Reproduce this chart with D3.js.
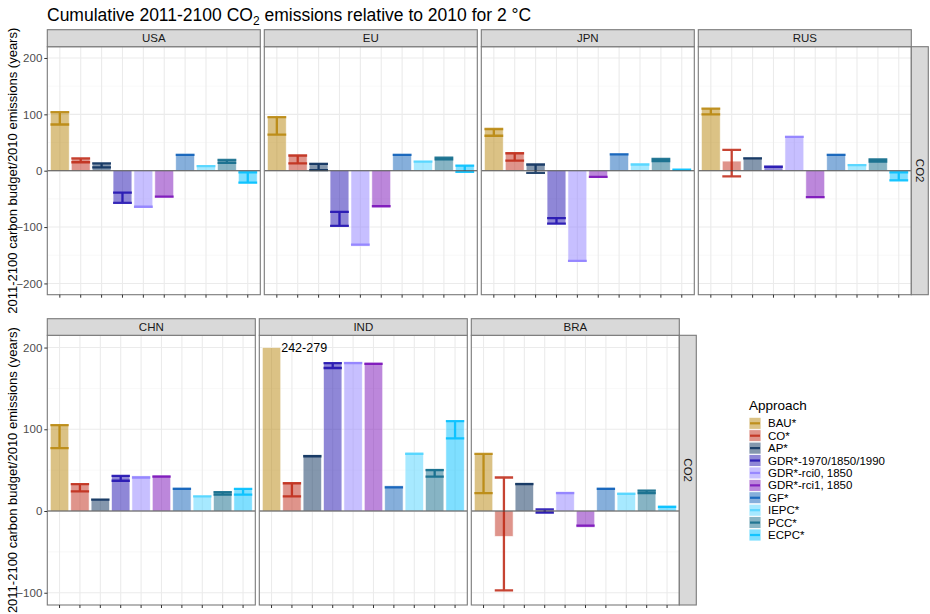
<!DOCTYPE html>
<html>
<head>
<meta charset="utf-8">
<script src="https://cdn.jsdelivr.net/npm/d3@7"></script>
<style>
  html, body { margin: 0; padding: 0; background: #fff; }
  svg { display: block; font-family: "Liberation Sans", Arial, sans-serif; }
</style>
</head>
<body>
<svg id="chart" width="930" height="614"></svg>
<script>
// ---------------- DATA ----------------
const approaches = ["BAU*", "CO*", "AP*", "GDR*-1970/1850/1990", "GDR*-rci0, 1850",
                    "GDR*-rci1, 1850", "GF*", "IEPC*", "PCC*", "ECPC*"];
const colors = ["#b8860b", "#bf2a17", "#0a2f5c", "#2010b0", "#8f7fff",
                "#7a10b8", "#0d5fb8", "#50d4ff", "#0f6a8a", "#00bfff"];

const regionsTop = ["USA", "EU", "JPN", "RUS"];
const regionsBottom = ["CHN", "IND", "BRA"];

// bar value, error-bar low, error-bar high (years of 2010 emissions)
const barUSA = [104, 22, 14, -57, -66, -48, 30, 10, 20, -23];
const loUSA  = [82, 15, 6, -57, -64, -46, 28, 8, 14, -21];
const hiUSA  = [104, 22, 13, -39, -64, -46, 28, 8, 19, -3];

const barEU = [96, 28, 14, -99, -134, -66, 30, 18, 24, 10];
const loEU  = [64, 13, 1, -98, -131, -63, 28, 16, 20, -2];
const hiEU  = [95, 27, 12, -73, -131, -63, 28, 16, 23, 9];

const barJPN = [75, 32, 12, -95, -162, -13, 31, 13, 22, 3];
const loJPN  = [62, 18, -4, -94, -160, -11, 29, 11, 17, 2];
const hiJPN  = [74, 31, 11, -84, -160, -11, 29, 11, 21, 2];

const barRUS = [111, 17, 24, 9, 62, -49, 30, 12, 21, -18];
const loRUS  = [100, -10, 22, 7, 60, -47, 28, 10, 16, -17];
const hiRUS  = [110, 37, 22, 7, 60, -47, 28, 10, 20, -3];

const barCHN = [106, 34, 15, 44, 43, 44, 29, 19, 24, 28];
const loCHN  = [77, 24, 14, 37, 41, 42, 27, 18, 20, 20];
const hiCHN  = [105, 33, 14, 43, 41, 42, 27, 18, 23, 27];

const barIND = [200, 35, 69, 182, 183, 182, 31, 72, 52, 111];
const loIND  = [null, 18, 67, 175, 181, 180, 29, 70, 42, 89];
const hiIND  = [null, 34, 67, 181, 181, 180, 29, 70, 50, 110];

const barBRA = [70, -31, 35, -3, 24, -20, 29, 23, 26, 7];
const loBRA  = [22, -97, 33, -2, 22, -18, 27, 21, 22, 5];
const hiBRA  = [70, 41, 33, 2, 22, -18, 27, 21, 25, 5];

const labelIND = "242-279";   // BAU value for IND, beyond the axis

const yTicksTop = [-200, -100, 0, 100, 200];
const yMinorTop = [-150, -50, 50, 150];
const yTicksBottom = [-100, 0, 100, 200];
const yMinorBottom = [-50, 50, 150];

const title = { pre: "Cumulative 2011-2100 CO", sub: "2", post: " emissions relative to 2010 for 2 \u00B0C" };
const yTitle = "2011-2100 carbon budget/2010 emissions (years)";
const facetRowLabel = "CO2";
const legendTitle = "Approach";

const seriesByRegion = {
  USA: [barUSA, loUSA, hiUSA], EU: [barEU, loEU, hiEU], JPN: [barJPN, loJPN, hiJPN],
  RUS: [barRUS, loRUS, hiRUS], CHN: [barCHN, loCHN, hiCHN], IND: [barIND, loIND, hiIND],
  BRA: [barBRA, loBRA, hiBRA]
};

// ---------------- LAYOUT ----------------
const svg = d3.select("#chart");
const fillAlpha = 0.5;
const color = d3.scaleOrdinal().domain(approaches).range(colors);

// title
const t = svg.append("text").attr("x", 47).attr("y", 21).attr("font-size", 17.5).attr("fill", "#000");
t.append("tspan").text(title.pre);
t.append("tspan").text(title.sub).attr("font-size", 12).attr("dy", 4);
t.append("tspan").text(title.post).attr("dy", -4);

const rows = [
  { regions: regionsTop, x0: 47.3, w: 213, gap: 4, stripTop: 29.7, top: 46.7, bottom: 294.7,
    domain: [-220, 220], ticks: yTicksTop, minor: yMinorTop },
  { regions: regionsBottom, x0: 47.3, w: 208, gap: 4, stripTop: 318.7, top: 335.3, bottom: 605,
    domain: [-115, 215], ticks: yTicksBottom, minor: yMinorBottom }
];

rows.forEach(row => {
  const y = d3.scaleLinear().domain(row.domain).range([row.bottom, row.top]);
  const h = row.bottom - row.top;

  row.regions.forEach((reg, pi) => {
    const px = row.x0 + pi * (row.w + row.gap);
    const x = d3.scaleBand().domain(approaches).range([px, px + row.w])
      .paddingInner(0.1).paddingOuter(0.15);
    const g = svg.append("g");
    const [bars, lo, hi] = seriesByRegion[reg];

    g.append("rect").attr("x", px).attr("y", row.top).attr("width", row.w).attr("height", h).attr("fill", "#fff");
    g.selectAll(".minor").data(row.minor).join("line")
      .attr("x1", px).attr("x2", px + row.w)
      .attr("y1", d => y(d)).attr("y2", d => y(d))
      .attr("stroke", "#f4f4f4").attr("stroke-width", 0.6);
    g.selectAll(".major").data(row.ticks).join("line")
      .attr("x1", px).attr("x2", px + row.w)
      .attr("y1", d => y(d)).attr("y2", d => y(d))
      .attr("stroke", "#ebebeb").attr("stroke-width", 1.1);
    g.selectAll(".vgrid").data(approaches).join("line")
      .attr("x1", d => x(d) + x.bandwidth() / 2).attr("x2", d => x(d) + x.bandwidth() / 2)
      .attr("y1", row.top).attr("y2", row.bottom)
      .attr("stroke", "#ebebeb").attr("stroke-width", 1.1);

    const clipId = "clip-" + reg;
    g.append("clipPath").attr("id", clipId).append("rect")
      .attr("x", px).attr("y", row.top).attr("width", row.w).attr("height", h);
    const pg = g.append("g").attr("clip-path", `url(#${clipId})`);

    pg.selectAll(".bar").data(approaches).join("rect")
      .attr("x", d => x(d))
      .attr("width", x.bandwidth())
      .attr("y", (d, i) => y(Math.max(0, bars[i])))
      .attr("height", (d, i) => Math.abs(y(bars[i]) - y(0)))
      .attr("fill", d => color(d)).attr("fill-opacity", fillAlpha)
      .attr("stroke", "#fff").attr("stroke-opacity", 0.7).attr("stroke-width", 0.8);

    approaches.forEach((a, i) => {
      if (lo[i] === null || hi[i] === null) return;
      const cx = x(a) + x.bandwidth() / 2;
      const eb = pg.append("g").attr("stroke", color(a)).attr("stroke-width", 2.3)
        .attr("stroke-opacity", 0.88).attr("fill", "none");
      eb.append("path").attr("d",
        `M${x(a)},${y(hi[i])}H${x(a) + x.bandwidth()}` +
        `M${cx},${y(hi[i])}V${y(lo[i])}` +
        `M${x(a)},${y(lo[i])}H${x(a) + x.bandwidth()}`);
    });

    pg.append("line").attr("x1", px).attr("x2", px + row.w)
      .attr("y1", y(0)).attr("y2", y(0)).attr("stroke", "#4a4a4a").attr("stroke-width", 1.1);

    if (reg === "IND") {
      g.append("text").attr("x", x(approaches[0]) + x.bandwidth() + 0.5).attr("y", y(200))
        .attr("dy", "0.36em").attr("font-size", 12.5).attr("fill", "#000").text(labelIND);
    }

    g.append("rect").attr("x", px).attr("y", row.top).attr("width", row.w).attr("height", h)
      .attr("fill", "none").attr("stroke", "#7a7a7a").attr("stroke-width", 1.1);

    g.append("rect").attr("x", px).attr("y", row.stripTop).attr("width", row.w)
      .attr("height", row.top - row.stripTop)
      .attr("fill", "#d9d9d9").attr("stroke", "#7a7a7a").attr("stroke-width", 1.1);
    g.append("text").attr("x", px + row.w / 2).attr("y", (row.stripTop + row.top) / 2)
      .attr("dy", "0.36em").attr("text-anchor", "middle").attr("font-size", 11.5)
      .attr("fill", "#1a1a1a").text(reg);

    const xa = g.append("g").attr("transform", `translate(0,${row.bottom})`)
      .call(d3.axisBottom(x).tickSize(3).tickFormat(""));
    xa.select(".domain").remove();
    xa.selectAll("line").attr("stroke", "#333").attr("stroke-width", 1);

    if (pi === 0) {
      const ya = g.append("g").attr("transform", `translate(${px},0)`)
        .call(d3.axisLeft(y).tickValues(row.ticks).tickSize(3).tickPadding(2).tickFormat(d3.format("d")));
      ya.select(".domain").remove();
      ya.selectAll("line").attr("stroke", "#333");
      ya.selectAll("text").attr("font-size", 11.5).attr("fill", "#4d4d4d")
        .attr("font-family", "'Liberation Sans', Arial, sans-serif");
      svg.append("text")
        .attr("transform", `translate(17,${(row.top + row.bottom) / 2}) rotate(-90)`)
        .attr("text-anchor", "middle").attr("font-size", 13).attr("fill", "#000")
        .text(yTitle);
    }
  });

  const sx = row.x0 + row.regions.length * (row.w + row.gap) - row.gap;
  svg.append("rect").attr("x", sx).attr("y", row.top).attr("width", 17).attr("height", h)
    .attr("fill", "#d9d9d9").attr("stroke", "#7a7a7a").attr("stroke-width", 1.1);
  svg.append("text")
    .attr("transform", `translate(${sx + 8.5},${(row.top + row.bottom) / 2}) rotate(90)`)
    .attr("text-anchor", "middle").attr("dy", "0.36em").attr("font-size", 11.5)
    .attr("fill", "#1a1a1a").text(facetRowLabel);
});

// ---------------- LEGEND ----------------
const lg = svg.append("g");
lg.append("text").attr("x", 749).attr("y", 410).attr("font-size", 13.5).attr("fill", "#000").text(legendTitle);
const ly = d3.scalePoint().domain(approaches).range([423.3, 535]);
const items = lg.selectAll(".item").data(approaches).join("g")
  .attr("transform", d => `translate(749,${ly(d)})`);
items.append("rect").attr("x", 0).attr("y", -6).attr("width", 12).attr("height", 12)
  .attr("fill", d => color(d)).attr("fill-opacity", fillAlpha)
  .attr("stroke", "#fff").attr("stroke-width", 0.8);
items.append("line").attr("x1", 1).attr("x2", 11).attr("y1", 0).attr("y2", 0)
  .attr("stroke", d => color(d)).attr("stroke-width", 2.2).attr("stroke-opacity", 0.85);
items.append("text").attr("x", 19).attr("y", 0).attr("dy", "0.36em")
  .attr("font-size", 11.5).attr("fill", "#000").text(d => d);
</script>
</body>
</html>
